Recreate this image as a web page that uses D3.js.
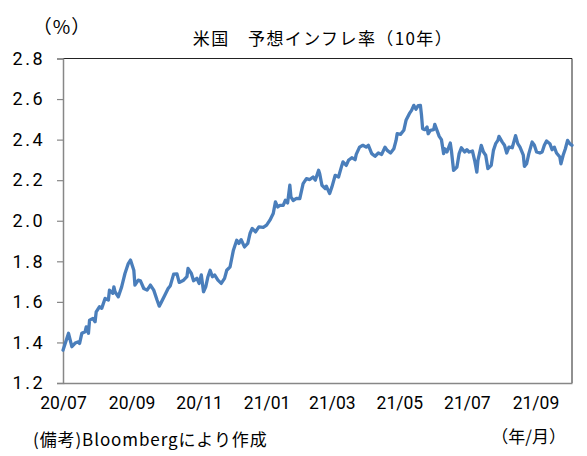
<!DOCTYPE html>
<html><head><meta charset="utf-8">
<script src="https://cdn.jsdelivr.net/npm/d3@7"></script>
<style>
body{margin:0;background:#fff;}
svg{display:block;}
</style></head>
<body>
<script>
// ---- data ----
const startDate = "2020-07-01";
const endDate = "2021-10-04";
// days elapsed since startDate for each observation
const dayOffsets = [0,5,8,11,14,15,17,20,21,23,24,27,29,30,33,35,38,41,42,45,46,47,50,53,56,59,61,64,65,68,70,73,76,79,82,85,87,89,92,95,97,100,103,105,109,112,113,116,118,121,123,125,127,129,131,133,135,137,140,143,146,148,151,154,157,159,161,164,167,169,171,174,177,181,184,187,190,192,194,196,199,201,203,205,206,208,211,214,217,220,223,226,228,231,232,234,237,238,241,243,246,249,252,253,256,258,261,264,265,268,271,274,276,279,282,285,288,291,293,296,299,301,302,305,308,310,313,315,317,319,321,323,324,325,327,329,330,332,335,336,338,340,342,344,345,347,350,351,353,356,358,360,363,365,367,370,372,374,375,378,380,382,384,387,389,391,393,394,397,399,401,403,406,408,409,411,413,416,417,419,421,424,426,428,431,433,435,437,440,442,444,446,449,450,452,454,456,458,460];
const inflation10y = [1.362,1.445,1.379,1.397,1.403,1.395,1.445,1.453,1.477,1.445,1.51,1.518,1.502,1.551,1.576,1.568,1.617,1.609,1.658,1.642,1.674,1.65,1.625,1.674,1.74,1.789,1.806,1.756,1.683,1.707,1.704,1.666,1.658,1.683,1.658,1.609,1.579,1.6,1.633,1.666,1.68,1.737,1.738,1.696,1.707,1.724,1.765,1.74,1.704,1.716,1.691,1.733,1.65,1.674,1.724,1.756,1.724,1.733,1.707,1.691,1.716,1.756,1.773,1.855,1.904,1.888,1.907,1.871,1.888,1.937,1.962,1.945,1.97,1.967,1.978,2.003,2.036,2.093,2.068,2.076,2.076,2.101,2.088,2.175,2.118,2.10,2.11,2.109,2.183,2.208,2.203,2.216,2.2,2.249,2.232,2.175,2.159,2.17,2.134,2.166,2.224,2.216,2.273,2.29,2.273,2.298,2.311,2.301,2.327,2.363,2.372,2.363,2.372,2.331,2.318,2.334,2.327,2.363,2.347,2.334,2.355,2.396,2.429,2.426,2.446,2.495,2.528,2.544,2.569,2.55,2.568,2.569,2.52,2.454,2.449,2.462,2.429,2.446,2.449,2.475,2.446,2.416,2.4,2.331,2.355,2.339,2.383,2.347,2.248,2.265,2.331,2.36,2.339,2.35,2.339,2.344,2.298,2.24,2.298,2.372,2.339,2.323,2.257,2.273,2.347,2.38,2.396,2.416,2.388,2.372,2.334,2.363,2.36,2.4,2.42,2.38,2.363,2.323,2.268,2.281,2.331,2.388,2.372,2.339,2.334,2.339,2.372,2.393,2.38,2.35,2.363,2.334,2.314,2.281,2.323,2.355,2.396,2.38,2.372];
const xTickDates = ["2020-07-01","2020-09-01","2020-11-01","2021-01-01","2021-03-01","2021-05-01","2021-07-01","2021-09-01"];
const xTickLabels = ["20/07","20/09","20/11","21/01","21/03","21/05","21/07","21/09"];
const yTicks = [1.2,1.4,1.6,1.8,2.0,2.2,2.4,2.6,2.8];
const yDomain = [1.2, 2.8];
const titleText = "米国　予想インフレ率（10年）";
const unitText = "（%）";
const sourceText = "(備考)Bloombergにより作成";
const xUnitText = "（年/月）";

// ---- layout ----
const W = 587, H = 456;
const L = 63, R = 572, T = 58.5, B = 383;
const parse = d3.utcParse("%Y-%m-%d");
const t0 = parse(startDate);
const dates = dayOffsets.map(d => d3.utcDay.offset(t0, d));
const data = dates.map((d, i) => ({date: d, v: inflation10y[i]}));

const svg = d3.select("body").append("svg").attr("width", W).attr("height", H);

const x = d3.scaleUtc().domain([t0, parse(endDate)]).range([L, R]);
const y = d3.scaleLinear().domain(yDomain).range([B, T]);

const numFont = "Roboto, 'Liberation Sans', sans-serif";
const jpFont = "'Noto Sans CJK JP', sans-serif";

// frame (top & right)
svg.append("path")
  .attr("d", `M${L},${T}H${R}V${B}`)
  .attr("fill", "none").attr("stroke", "#222").attr("stroke-width", 1);

// y axis
const yAxis = d3.axisLeft(y).tickValues(yTicks).tickFormat(d3.format(".1f")).tickSize(6).tickPadding(12);
const gy = svg.append("g").attr("transform", `translate(${L},0)`).call(yAxis);
gy.select(".domain").attr("stroke", "#878787").attr("stroke-width", 1.5);
gy.selectAll(".tick line").attr("stroke", "#878787").attr("stroke-width", 1.2);
gy.selectAll(".tick text").attr("font-family", numFont).attr("font-size", 18).attr("fill", "#000")
  .attr("letter-spacing", 2.5);

// x axis
const xAxis = d3.axisBottom(x).tickValues(xTickDates.map(parse))
  .tickFormat((d, i) => xTickLabels[i]).tickSize(0).tickPadding(14);
const gx = svg.append("g").attr("transform", `translate(0,${B})`).call(xAxis);
gx.select(".domain").attr("stroke", "#878787").attr("stroke-width", 1.5);
gx.selectAll(".tick text").attr("font-family", numFont).attr("font-size", 17.5).attr("fill", "#000");

// line
const line = d3.line().x(d => x(d.date)).y(d => y(d.v)).curve(d3.curveLinear);
svg.append("path").datum(data)
  .attr("d", line).attr("fill", "none")
  .attr("stroke", "#4A7EBB").attr("stroke-width", 3.3).attr("stroke-linejoin", "round").attr("stroke-linecap", "round");

// texts
svg.append("text").attr("x", 323).attr("y", 45).attr("text-anchor", "middle")
  .attr("font-family", jpFont).attr("font-size", 17).attr("letter-spacing", 1.4).text(titleText);
svg.append("text").attr("x", 62).attr("y", 34).attr("text-anchor", "middle")
  .attr("font-family", jpFont).attr("font-size", 19).attr("letter-spacing", 1).text(unitText);
svg.append("text").attr("x", 33).attr("y", 446)
  .attr("font-family", jpFont).attr("font-size", 17).attr("letter-spacing", 0.9).text(sourceText);
svg.append("text").attr("x", 566).attr("y", 443).attr("text-anchor", "end")
  .attr("font-family", jpFont).attr("font-size", 17).text(xUnitText);
</script>
</body></html>
